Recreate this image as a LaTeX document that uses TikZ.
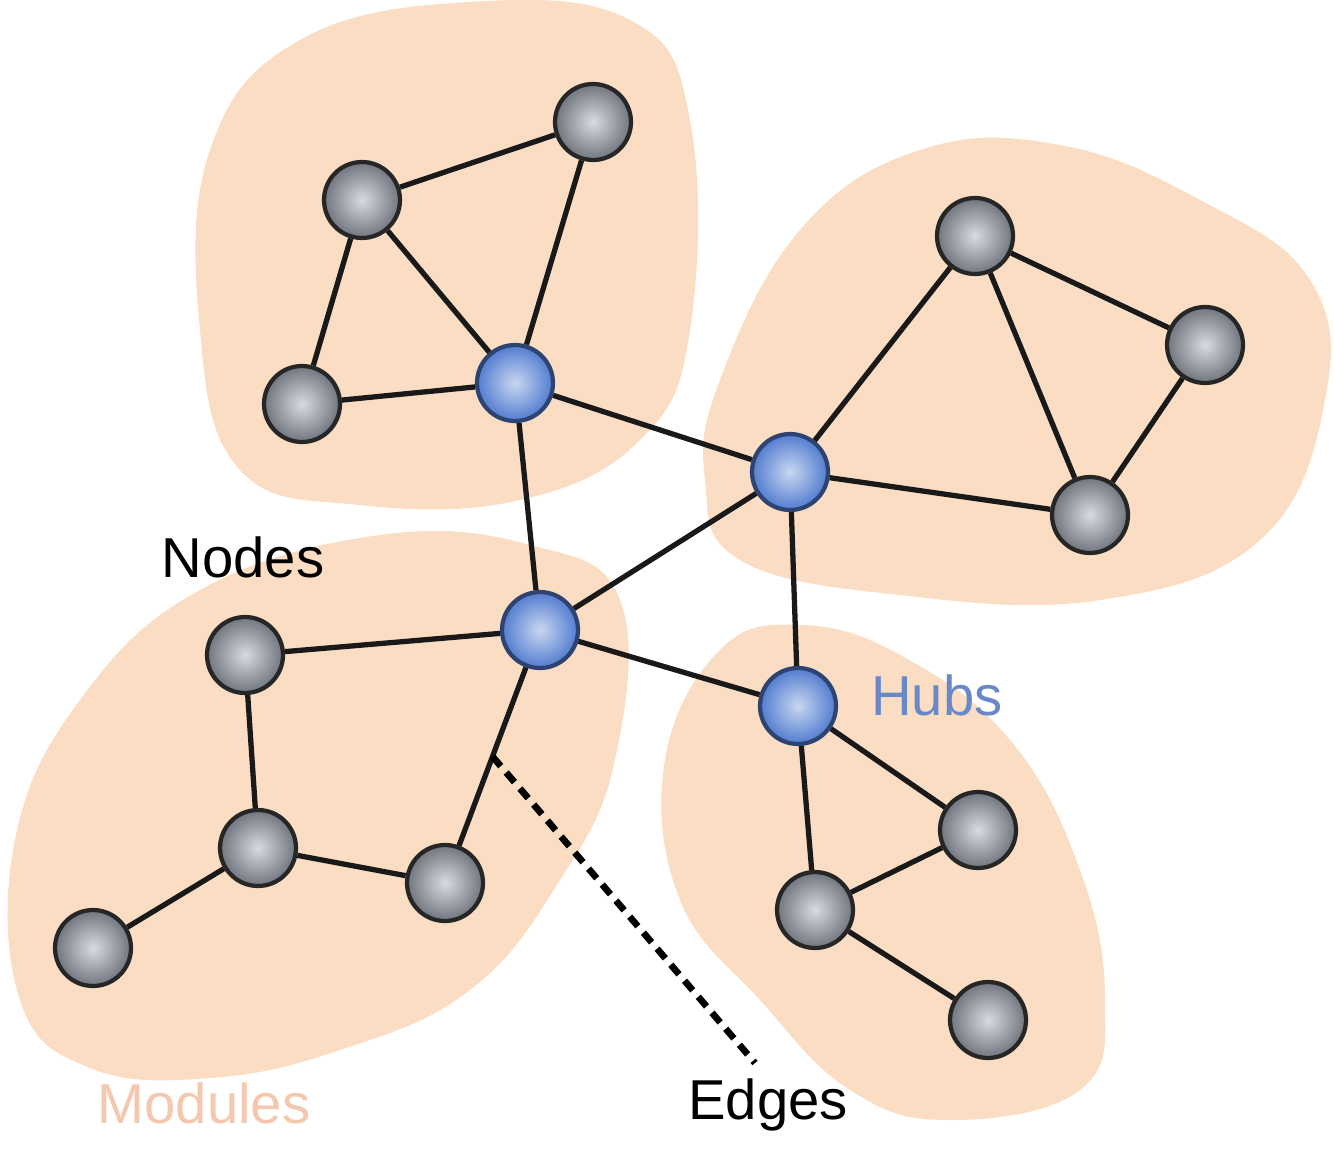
\documentclass[tikz,border=0pt]{standalone}
\usepackage{fontspec}
\setmainfont{Liberation Sans}
\definecolor{modulefill}{RGB}{250,221,194}
\definecolor{moduletext}{RGB}{244,200,174}
\definecolor{hubtext}{RGB}{104,136,200}
\definecolor{nodegray}{RGB}{112,116,126}
\definecolor{nodelight}{RGB}{215,220,226}
\definecolor{hubblue}{RGB}{82,124,208}
\definecolor{hublight}{RGB}{200,215,240}
\begin{document}
\begin{tikzpicture}[
    vertex/.style={circle, minimum size=0.76cm, inner sep=0pt, draw=black!85, line width=1.2pt, inner color=nodelight, outer color=nodegray},
    hub/.style={vertex, draw=hubblue!55!black, inner color=hublight, outer color=hubblue},
    link/.style={line width=1.5pt, black!90},
    label/.style={font=\fontsize{16}{18}\selectfont}
]
    \useasboundingbox (0,0) rectangle (13.34,-11.49);
    % modules
    \fill[modulefill] plot[smooth cycle, tension=0.7] coordinates {(2.1,-1.5) (3.0,-0.4) (4.7,-0.02) (6.3,-0.2) (6.9,-1.2) (6.9,-3.3) (6.4,-4.4) (5.2,-5.0) (3.6,-5.05) (2.4,-4.7) (2.0,-3.3)};
    \fill[modulefill] plot[smooth cycle, tension=0.7] coordinates {(7.2,-3.8) (8.0,-2.3) (9.2,-1.5) (10.6,-1.45) (12.0,-2.0) (13.1,-2.8) (13.25,-4.0) (12.6,-5.4) (11.0,-6.0) (9.0,-5.95) (7.4,-5.6) (7.05,-4.8)};
    \fill[modulefill] plot[smooth cycle, tension=0.7] coordinates {(0.15,-8.4) (0.8,-7.0) (2.0,-5.9) (3.8,-5.35) (5.3,-5.45) (6.2,-6.0) (6.15,-7.6) (5.6,-8.8) (4.7,-9.9) (3.4,-10.5) (2.1,-10.78) (0.9,-10.68) (0.2,-10.0)};
    \fill[modulefill] plot[smooth cycle, tension=0.7] coordinates {(6.65,-7.6) (7.2,-6.5) (8.0,-6.25) (9.0,-6.55) (10.1,-7.4) (10.8,-8.7) (11.05,-10.0) (10.8,-10.9) (9.5,-11.2) (8.5,-10.9) (7.6,-10.0) (6.8,-9.0)};
    % nodes
    \node[vertex] (a1) at (5.93,-1.22) {};
    \node[vertex] (a2) at (3.62,-2.00) {};
    \node[vertex] (a3) at (3.02,-4.04) {};
    \node[hub]    (h1) at (5.15,-3.83) {};
    \node[vertex] (b1) at (9.75,-2.36) {};
    \node[vertex] (b2) at (12.05,-3.45) {};
    \node[vertex] (b3) at (10.90,-5.15) {};
    \node[hub]    (h2) at (7.90,-4.72) {};
    \node[hub]    (h3) at (5.40,-6.30) {};
    \node[vertex] (c1) at (2.45,-6.55) {};
    \node[vertex] (c2) at (2.58,-8.48) {};
    \node[vertex] (c3) at (0.93,-9.48) {};
    \node[vertex] (c4) at (4.45,-8.83) {};
    \node[hub]    (h4) at (7.98,-7.06) {};
    \node[vertex] (d1) at (9.78,-8.30) {};
    \node[vertex] (d2) at (8.15,-9.10) {};
    \node[vertex] (d3) at (9.88,-10.20) {};
    % edges
    \foreach \u/\v in {a2/a1, a2/a3, a2/h1, a1/h1, a3/h1, h1/h2, h1/h3,
                       h2/b1, b1/b2, b1/b3, b2/b3, h2/b3, h2/h3, h2/h4,
                       h3/c1, h3/h4, c1/c2, c2/c3, c2/c4,
                       h4/d1, h4/d2, d1/d2, d2/d3}
        \draw[link] (\u) -- (\v);
    \draw[link] (h3) -- (c4) coordinate[pos=0.5] (edgemid);
    \coordinate (edgetip) at (7.55,-10.63);
    \draw[line width=1.9pt, dash pattern=on 3.6pt off 2.4pt] (edgemid) -- (edgetip);
    % labels
    \node[label] (nodestxt) at (2.43,-5.57) {Nodes};
    \node[label, text=hubtext] (hubstxt) at (9.37,-6.95) {Hubs};
    \node[label, text=moduletext] (modtxt) at (2.04,-11.03) {Modules};
    \node[label] (edgetxt) at (7.68,-11.05) {Edges};
\end{tikzpicture}
\end{document}
